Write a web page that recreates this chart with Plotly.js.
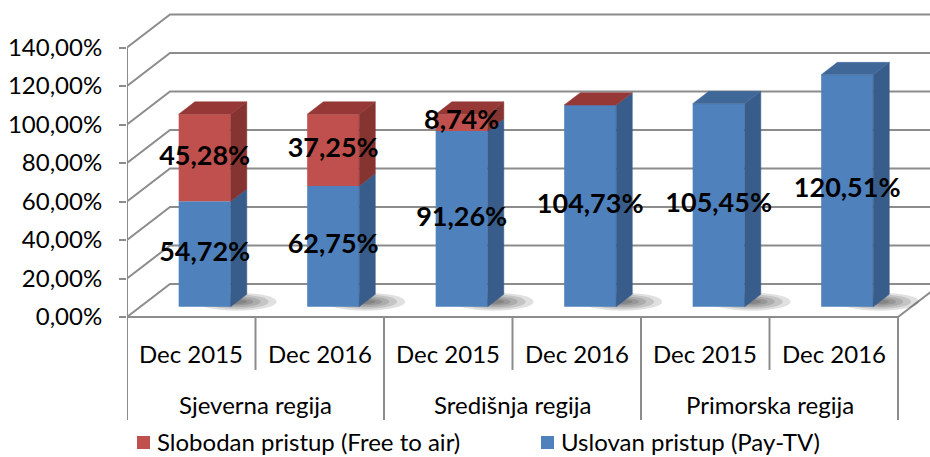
<!DOCTYPE html>
<html>
<head>
<meta charset="utf-8">
<script src="https://cdn.plot.ly/plotly-3.0.1.min.js"></script>
<style>html,body{margin:0;padding:0;background:#fff;}#chart{width:930px;height:457px;}</style>
</head>
<body>
<div id="chart"></div>
<script>
// ---- data ----
const categories = ['Dec 2015', 'Dec 2016', 'Dec 2015', 'Dec 2016', 'Dec 2015', 'Dec 2016'];
const regions = ['Sjeverna regija', 'Središnja regija', 'Primorska regija'];
const seriesNames = ['Slobodan pristup (Free to air)', 'Uslovan pristup (Pay-TV)'];
const payTV = [54.72, 62.75, 91.26, 104.73, 105.45, 120.51];
const freeToAir = [45.28, 37.25, 8.74, 0, null, null];
const yTicks = [0, 20, 40, 60, 80, 100, 120, 140];

// ---- styling / geometry (pixel scale of the reference) ----
const W = 930, H = 457;
const L = 127, Y0PX = 317;           // front axis position
const PXU = 128.5, PYU = 1.925;      // px per category, px per percent
const DX = 43 / PXU, DY = 33 / PYU;  // full depth of the 3D box
const F0 = 0.3125, F1 = 0.6875;      // bar depth
const BW = 52 / PXU;
const nCat = categories.length;
const xRange = [0, (W - L) / PXU];
const yRange = [(Y0PX - H) / PYU, Y0PX / PYU];
const colors = {
  blue: '#4F81BD', blueSide: '#385D8A', blueTop: '#3F6899',
  red: '#C0504D', redSide: '#853432', redTop: '#953836',
  grid: '#8C8C8C'
};
const font = 'Lato, "Open Sans", sans-serif';
const TXT = 24;
const fmt = v => v.toFixed(2).replace('.', ',') + '%';
const px2paperX = p => (p - L) / (W - L);
const px2paperY = p => 1 - p / H;

const shapes = [];
const annotations = [];
const traces = [];

// back wall + side wall grid
const yMaxTick = yTicks[yTicks.length - 1];
yTicks.forEach(v => {
  shapes.push({type: 'path', xref: 'x', yref: 'y', layer: 'below',
    path: `M0,${v} L${DX},${v + DY} L${nCat + DX},${v + DY}`,
    line: {color: colors.grid, width: 2}});
});
// front axis line, floor edge
shapes.push({type: 'path', xref: 'x', yref: 'y', layer: 'below',
  path: `M0,0 L0,${yMaxTick}`, line: {color: colors.grid, width: 2}});
shapes.push({type: 'path', xref: 'x', yref: 'y', layer: 'below',
  path: `M0,0 L${nCat},0 L${nCat + DX},${DY}`, line: {color: colors.grid, width: 2}});
// category dividers
for (let k = 0; k <= nCat; k++) {
  const len = (k % 2 === 0) ? -53.5 : -27.5;
  shapes.push({type: 'line', xref: 'x', yref: 'y', layer: 'below',
    x0: k, x1: k, y0: 0, y1: len, line: {color: colors.grid, width: 2}});
}

// shadows (soft, to the right of each bar)
const yoff0 = F0 * DY;
const bx = (F1 - F0) * DX, by = (F1 - F0) * DY;
for (let i = 0; i < nCat; i++) {
  const fx1 = i + 0.5 + F0 * DX + BW / 2;
  const cx = fx1 + 6 / PXU, cy = yoff0 + 5 / PYU;
  const rx = 40 / PXU, ry = 9 / PYU;
  [1, 0.8, 0.6, 0.42, 0.26].forEach(s => {
    shapes.push({type: 'circle', xref: 'x', yref: 'y', layer: 'below',
      x0: cx - rx * s, x1: cx + rx * s, y0: cy - ry * s, y1: cy + ry * s,
      fillcolor: 'rgba(0,0,0,0.12)', line: {width: 0}});
  });
}

// front faces as bars
const xc = categories.map((c, i) => i + 0.5 + F0 * DX);
traces.push({type: 'bar', name: seriesNames[1], x: xc, y: payTV,
  base: payTV.map(() => yoff0), width: BW,
  marker: {color: colors.blue, line: {width: 0}}, hoverinfo: 'skip', showlegend: false});
traces.push({type: 'bar', name: seriesNames[0], x: xc, y: freeToAir,
  base: payTV.map(v => yoff0 + v), width: BW,
  marker: {color: colors.red, line: {width: 0}}, hoverinfo: 'skip', showlegend: false});

// side and top faces
function poly(xs, ys, color) {
  traces.push({type: 'scatter', mode: 'lines', x: xs.concat([xs[0]]), y: ys.concat([ys[0]]),
    fill: 'toself', fillcolor: color, line: {width: 0.5, color: color},
    hoverinfo: 'skip', showlegend: false});
}
for (let i = 0; i < nCat; i++) {
  const fx0 = xc[i] - BW / 2, fx1 = xc[i] + BW / 2;
  const b0 = yoff0, t0 = yoff0 + payTV[i];
  poly([fx1, fx1 + bx, fx1 + bx, fx1], [b0, b0 + by, t0 + by, t0], colors.blueSide);
  let top = t0, topColor = colors.blueTop;
  if (freeToAir[i] !== null) {
    const t1 = t0 + freeToAir[i];
    if (freeToAir[i] > 0) poly([fx1, fx1 + bx, fx1 + bx, fx1], [t0, t0 + by, t1 + by, t1], colors.redSide);
    top = t1; topColor = colors.redTop;
  }
  poly([fx0, fx0 + bx, fx1 + bx, fx1], [top, top + by, top + by, top], topColor);
}

// data labels
const lx = [], ly = [], lt = [];
for (let i = 0; i < nCat; i++) {
  lx.push(xc[i]); ly.push(yoff0 + payTV[i] / 2); lt.push(fmt(payTV[i]));
  if (freeToAir[i]) {
    lx.push(xc[i]); ly.push(yoff0 + payTV[i] + freeToAir[i] / 2); lt.push(fmt(freeToAir[i]));
  }
}
traces.push({type: 'scatter', mode: 'text', x: lx, y: ly, text: lt,
  textposition: 'middle center', cliponaxis: false,
  textfont: {family: font, size: 27, weight: 'bold', color: '#000'},
  hoverinfo: 'skip', showlegend: false});

// category and region labels
categories.forEach((c, i) => annotations.push({xref: 'x', yref: 'y', x: i + 0.5, y: -18.7,
  text: c, showarrow: false, font: {family: font, size: TXT, color: '#000'}}));
regions.forEach((r, j) => annotations.push({xref: 'x', yref: 'y', x: 2 * j + 1, y: -45.2,
  text: r, showarrow: false, font: {family: font, size: TXT, color: '#000'}}));

// legend
const legendItems = [
  {name: seriesNames[0], color: colors.red, sx: 137, tx: 155},
  {name: seriesNames[1], color: colors.blue, sx: 541, tx: 559}
];
legendItems.forEach(it => {
  shapes.push({type: 'rect', xref: 'paper', yref: 'paper',
    x0: px2paperX(it.sx), x1: px2paperX(it.sx + 13), y0: px2paperY(449), y1: px2paperY(436),
    fillcolor: it.color, line: {width: 0}});
  annotations.push({xref: 'paper', yref: 'paper', x: px2paperX(it.tx), y: px2paperY(441),
    xanchor: 'left', yanchor: 'middle', text: it.name, showarrow: false,
    font: {family: font, size: TXT, color: '#000'}});
});

const layout = {
  width: W, height: H,
  margin: {l: L, r: 0, t: 0, b: 0},
  paper_bgcolor: '#fff', plot_bgcolor: 'rgba(0,0,0,0)',
  separators: ', ',
  barmode: 'overlay',
  showlegend: false,
  xaxis: {range: xRange, visible: false, fixedrange: true},
  yaxis: {range: yRange, tickmode: 'array', tickvals: yTicks, ticktext: yTicks.map(fmt),
    showgrid: false, zeroline: false, showline: false,
    ticks: 'outside', ticklen: 7, tickwidth: 2, tickcolor: colors.grid,
    ticklabelstandoff: 12,
    tickfont: {family: font, size: TXT, color: '#000'}, fixedrange: true},
  shapes: shapes,
  annotations: annotations
};

Plotly.newPlot('chart', traces, layout, {displayModeBar: false, staticPlot: true});
</script>
</body>
</html>
